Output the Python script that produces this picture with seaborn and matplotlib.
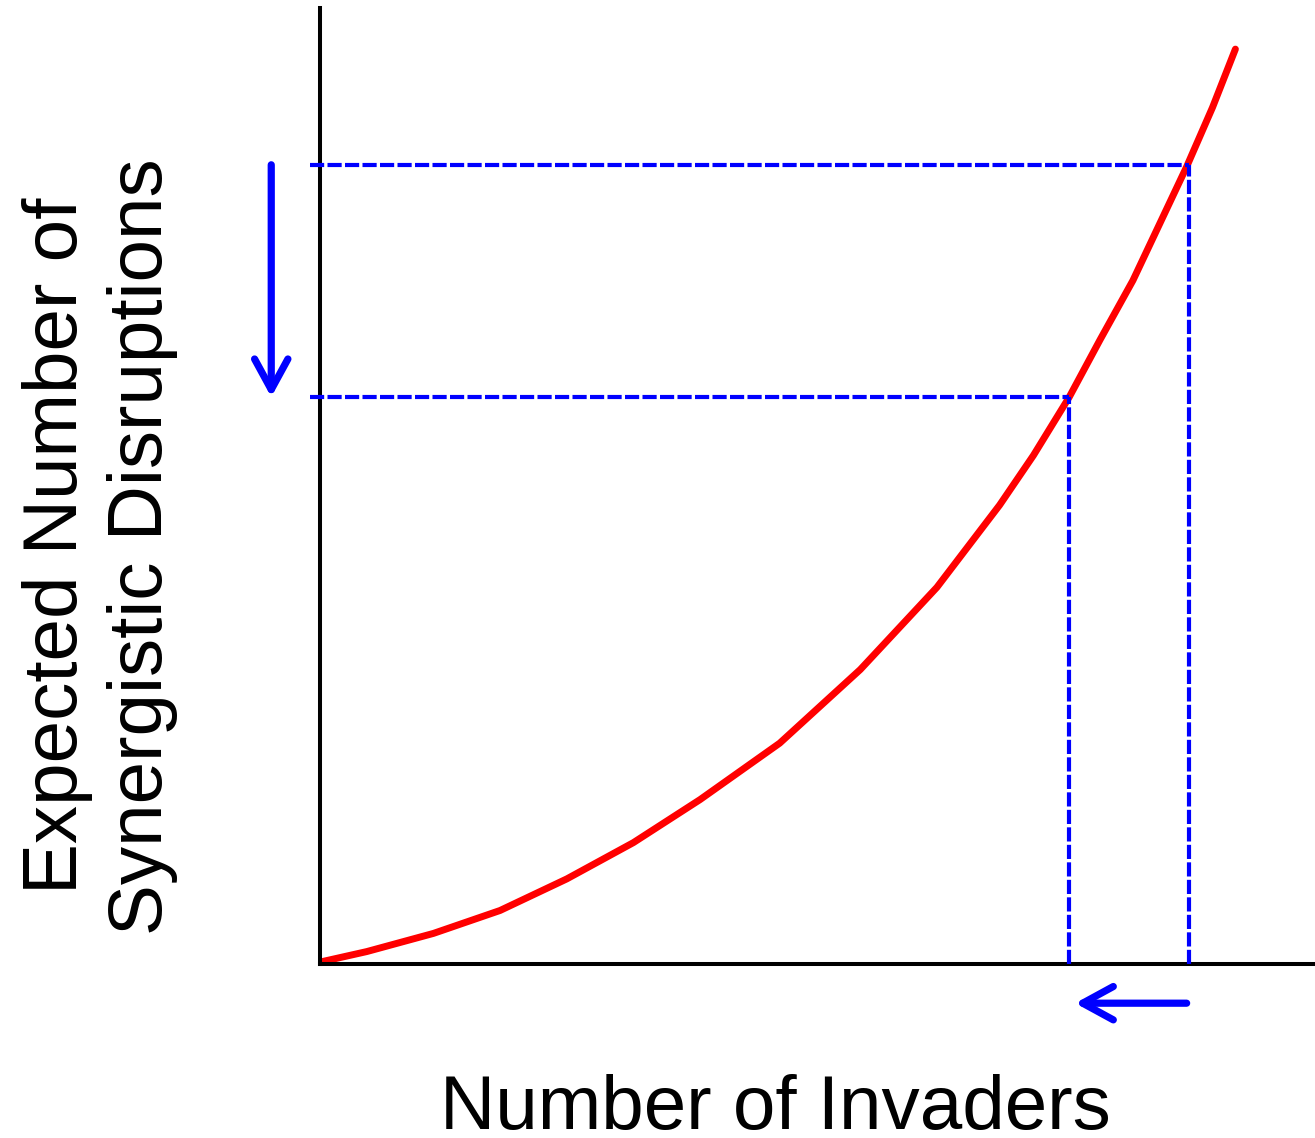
import matplotlib
matplotlib.use('Agg')
import matplotlib.pyplot as plt
import seaborn as sns
import pandas as pd

# %% Data (arbitrary units, axes run 0-10)
invaders = [0.0, 0.47, 1.14, 1.81, 2.48, 3.15, 3.82, 4.62, 5.43, 6.20,
            6.83, 7.17, 7.53, 7.84, 8.17, 8.71, 8.97, 9.20]
disruptions = [0.02, 0.13, 0.32, 0.56, 0.89, 1.27, 1.72, 2.31, 3.08, 3.94,
               4.80, 5.32, 5.93, 6.53, 7.15, 8.34, 8.96, 9.57]

# two invader levels and the disruptions they give
invader_marks = [7.53, 8.73]
disruption_marks = [5.93, 8.36]

x_label = 'Number of Invaders'
y_label = 'Expected Number of\nSynergistic Disruptions'

curve = pd.DataFrame({'invaders': invaders, 'disruptions': disruptions})

# %% Plot
sns.set_style('white')
plt.rcParams['font.family'] = ['Liberation Sans', 'DejaVu Sans']

fig = plt.figure(figsize=(13.15, 11.38), dpi=100)
ax = fig.add_axes([320 / 1315, 174 / 1138, 995 / 1315, 956 / 1138])

sns.lineplot(data=curve, x='invaders', y='disruptions', color='#ff0000',
             linewidth=5, ax=ax, zorder=2)

# dashed guide lines from the curve to both axes
for xm, ym in zip(invader_marks, disruption_marks):
    ax.plot([-0.1, xm], [ym, ym], color='#0000ff', lw=3, dashes=(3.4, 0.8),
            clip_on=False, zorder=3)
    ax.plot([xm, xm], [0, ym], color='#0000ff', lw=3, dashes=(3.4, 0.8),
            clip_on=False, zorder=3)

# arrows showing the shift down / left
arrow = dict(arrowstyle='->, head_length=0.55, head_width=0.3', color='#0000ff',
             lw=5.2, shrinkA=0, shrinkB=0, mutation_scale=40)
ax.annotate('', xy=(-0.49, disruption_marks[0]), xytext=(-0.49, disruption_marks[1]),
            arrowprops=arrow, annotation_clip=False)
ax.annotate('', xy=(invader_marks[0] + 0.06, -0.41), xytext=(invader_marks[1] - 0.02, -0.41),
            arrowprops=arrow, annotation_clip=False)

ax.set_xlim(0, 10)
ax.set_ylim(0, 10)
ax.set_xticks([])
ax.set_yticks([])
ax.set_xlabel(None)
ax.set_ylabel(None)
sns.despine(ax=ax)
for side in ['left', 'bottom']:
    ax.spines[side].set_linewidth(2.9)
    ax.spines[side].set_color('black')

fig.text(0.590, 0.008, x_label, fontsize=55, ha='center', va='baseline',
         color='black')
fig.text(0.076, 0.520, y_label, fontsize=55, ha='center', va='center',
         rotation=90, linespacing=1.27, multialignment='center', color='black')

fig.savefig('out.png', dpi=100)
